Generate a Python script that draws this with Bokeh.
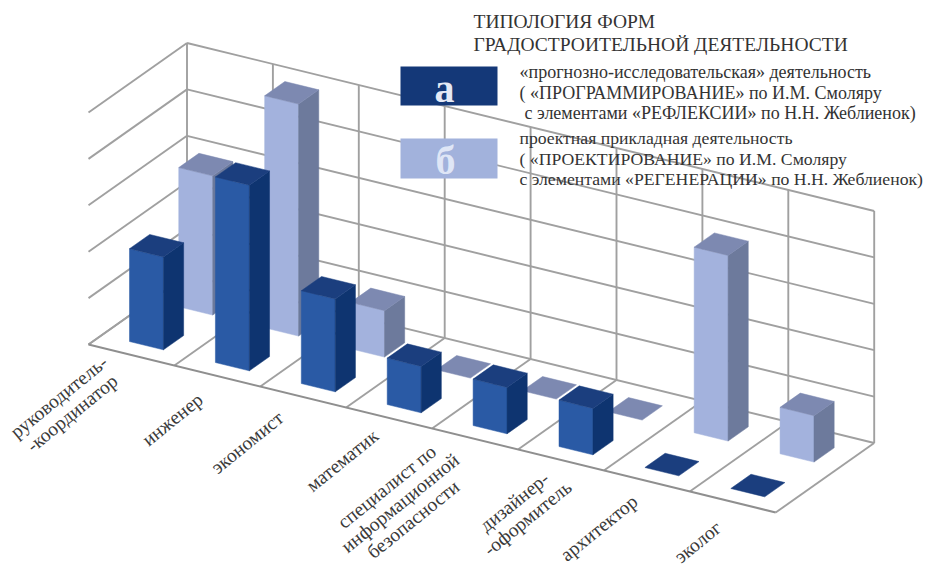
from bokeh.plotting import figure
from bokeh.models import Range1d
from bokeh.core.properties import value
from bokeh.embed import file_html
from bokeh.resources import INLINE
import math

categories = ["руководитель-\n-координатор", "инженер", "экономист", "математик",
              "специалист по\nинформационной\nбезопасности", "дизайнер-\n-оформитель",
              "архитектор", "эколог"]
series_a = [2, 4, 2, 1, 1, 1, 0, 0]
series_b = [3, 5, 1, 0, 0, 0, 4, 1]
levels = [0, 1, 2, 3, 4, 5]

title_lines = ["ТИПОЛОГИЯ ФОРМ", "ГРАДОСТРОИТЕЛЬНОЙ ДЕЯТЕЛЬНОСТИ"]
legend_a = ["«прогнозно-исследовательская» деятельность",
            "( «ПРОГРАММИРОВАНИЕ» по И.М. Смоляру",
            "с элементами «РЕФЛЕКСИИ» по Н.Н. Жеблиенок)"]
legend_b = ["проектная прикладная деятельность",
            "( «ПРОЕКТИРОВАНИЕ» по И.М. Смоляру",
            "с элементами «РЕГЕНЕРАЦИИ» по Н.Н. Жеблиенок)"]

# --- oblique projection (screen pixels of the 925x567 page) ---
ORIGIN = (88.0, 344.0)
CAT = (85.9, 21.0)
DEPTH = (98.5, -69.5)
UNIT = 46.4


def proj(i, d, v=0.0):
    return (ORIGIN[0] + i * CAT[0] + d * DEPTH[0],
            ORIGIN[1] + i * CAT[1] + d * DEPTH[1] - v * UNIT)


W, H = 925, 567
p = figure(width=W, height=H, output_backend="svg", toolbar_location=None,
           x_range=Range1d(0, W), y_range=Range1d(H, 0),
           x_axis_location=None, y_axis_location=None, min_border=0,
           outline_line_color=None, background_fill_color="white",
           border_fill_color="white")
p.grid.visible = False

# --- walls and floor ---
n = len(categories)
top = levels[-1]
gx, gy = [], []


def seg(a, b):
    gx.append([a[0], b[0]])
    gy.append([a[1], b[1]])


for lv in levels:
    seg(proj(0, 0, lv), proj(0, 1, lv))
    seg(proj(0, 1, lv), proj(n, 1, lv))
for k in range(n + 1):
    seg(proj(k, 1, 0), proj(k, 1, top))
    seg(proj(k, 0, 0), proj(k, 1, 0))
p.multi_line(gx, gy, line_color="#a0a0a0", line_width=1.9)
f0, f1 = proj(0, 0, 0), proj(n, 0, 0)
p.line([f0[0], f1[0]], [f0[1], f1[1]], line_color="#8f8f8f", line_width=2.0)

# --- bars ---
BAR_W, BAR_D = 0.395, 0.205
I0, D0 = 0.318, 0.139
COL_A = dict(front="#2a5aa5", side="#0e3470", top="#1b3e7e")
COL_B = dict(front="#a3b2dd", side="#6d7a9c", top="#7d89b1")


def add_bar(i, row, val, col, xs, ys, fc):
    a, b = i + I0, i + I0 + BAR_W
    c, e = row * 0.5 + D0, row * 0.5 + D0 + BAR_D
    quads = []
    if val > 0:
        quads.append(([proj(a, c, 0), proj(b, c, 0), proj(b, c, val), proj(a, c, val)], col["front"]))
        quads.append(([proj(b, c, 0), proj(b, e, 0), proj(b, e, val), proj(b, c, val)], col["side"]))
    quads.append(([proj(a, c, val), proj(b, c, val), proj(b, e, val), proj(a, e, val)], col["top"]))
    for pts, color in quads:
        xs.append([q[0] for q in pts])
        ys.append([q[1] for q in pts])
        fc.append(color)


xs, ys, fc = [], [], []
for row, (vals, col) in ((1, (series_b, COL_B)), (0, (series_a, COL_A))):
    for i, val in enumerate(vals):
        add_bar(i, row, val, col, xs, ys, fc)
p.patches(xs, ys, fill_color=fc, line_color=fc, line_width=0.5)

# --- category labels ---
offsets = [(-66, 50), (-45, 43.5), (-56, 45.5), (-47, 42.5),
           (-75, 64), (-40, 50), (-48, 47), (-35, 40)]
lx, ly = [], []
for i, off in enumerate(offsets):
    q = proj(i + 0.5, 0, 0)
    lx.append(q[0] + off[0])
    ly.append(q[1] + off[1])
p.text(lx, ly, text=categories, angle=math.radians(39), text_align="center",
       text_baseline="middle", text_font=value("Liberation Serif"),
       text_font_size="19.5px", text_color="#3a3a3a", text_line_height=1.0)

# --- legend ---
p.quad(left=[400], right=[497], top=[66], bottom=[105], fill_color="#143878", line_color=None)
p.quad(left=[400], right=[497], top=[138], bottom=[178], fill_color="#a2b2dc", line_color=None)
p.text([444], [88], text=["а"], text_align="center", text_baseline="middle",
       text_font=value("Liberation Serif"), text_font_style="bold",
       text_font_size="40px", text_color="#e4e9f5")
p.text([445], [160], text=["б"], text_align="center", text_baseline="middle",
       text_font=value("Liberation Serif"), text_font_style="bold",
       text_font_size="40px", text_color="#dfe6f6")

p.text([473, 473], [21, 44], text=title_lines, text_baseline="middle",
       text_font=value("Liberation Serif"), text_font_size="19.5px", text_color="#333333")
p.text([519, 519, 524], [71, 92, 112], text=legend_a, text_baseline="middle",
       text_font=value("Liberation Serif"), text_font_size="18px", text_color="#333333")
p.text([519, 519, 519], [137, 158, 178], text=legend_b, text_baseline="middle",
       text_font=value("Liberation Serif"), text_font_size="17.7px", text_color="#333333")

open("out.html", "w").write(file_html(p, INLINE))
